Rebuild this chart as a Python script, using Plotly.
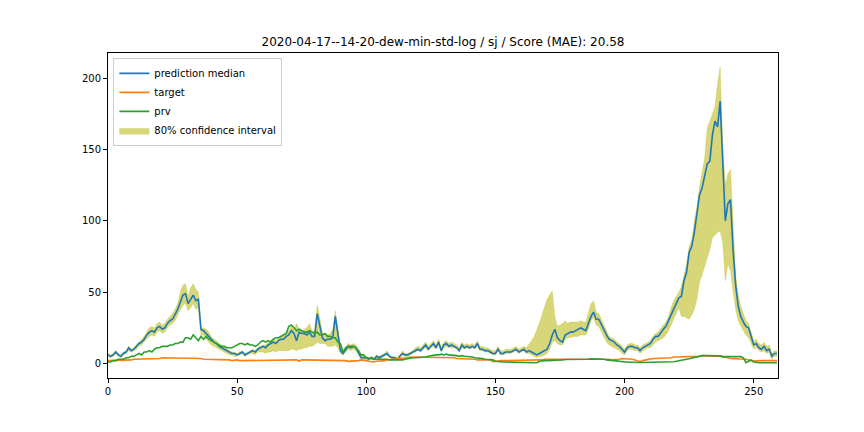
import plotly.graph_objects as go

title_text = "2020-04-17--14-20-dew-min-std-log / sj / Score (MAE): 20.58"

median = [6, 5, 6, 8, 6, 5, 7, 8, 11, 9,
          10, 12, 14, 15, 17, 20, 22, 23, 22, 25,
          26, 24, 25, 28, 30, 31, 34, 38, 43, 48,
          49, 42, 45, 48, 44, 45, 24, 23, 21, 19,
          17, 15, 14, 12, 11, 10, 9, 8, 7, 7,
          6, 7, 8, 6, 7, 8, 9, 8, 10, 11,
          12, 11, 13, 14, 15, 14, 16, 17, 17, 19,
          20, 23, 21, 16, 22, 21, 21, 20, 22, 19,
          19, 35, 27, 18, 16, 17, 17, 18, 33, 20,
          9, 7, 10, 12, 11, 12, 11, 8, 4, 4,
          4, 3, 4, 3, 5, 4, 5, 6, 7, 5,
          4, 4, 3, 5, 7, 6, 6, 7, 8, 9,
          10, 9, 11, 13, 10, 12, 14, 11, 15, 9,
          13, 14, 12, 13, 12, 11, 9, 13, 11, 12,
          11, 12, 11, 14, 10, 10, 9, 9, 8, 7,
          7, 10, 7, 7, 8, 8, 8, 9, 10, 8,
          9, 10, 8, 9, 8, 7, 6, 7, 8, 9,
          10, 14, 20, 24, 18, 16, 15, 20, 21, 22,
          22, 23, 24, 25, 24, 23, 28, 33, 36, 31,
          31, 27, 24, 20, 17, 16, 15, 13, 12, 10,
          8, 11, 12, 12, 11, 11, 9, 11, 12, 13,
          14, 17, 19, 19, 22, 24, 26, 30, 34, 38,
          41, 46, 47, 58, 64, 78, 82, 92, 105, 118,
          123, 132, 140, 142, 160, 170, 166, 184, 140, 100,
          112, 115, 80, 55, 40, 33, 29, 26, 25, 18,
          13, 14, 11, 10, 12, 9, 10, 5, 7, 7]

lower = [5, 4, 5, 7, 5, 4, 6, 7, 9, 8,
         9, 10, 12, 13, 15, 17, 19, 20, 19, 22,
         23, 21, 22, 25, 27, 28, 30, 34, 38, 41,
         42, 37, 39, 42, 38, 39, 20, 20, 17, 15,
         13, 12, 11, 10, 9, 8, 7, 6, 6, 5,
         5, 6, 7, 5, 6, 7, 7, 6, 8, 8,
         8, 7, 8, 8, 9, 8, 9, 9, 9, 9,
         9, 10, 10, 9, 10, 10, 11, 11, 12, 12,
         13, 15, 14, 14, 14, 12, 12, 12, 13, 11,
         7, 6, 8, 10, 9, 10, 9, 6, 3, 3,
         3, 2, 3, 2, 4, 3, 4, 5, 6, 4,
         3, 3, 2, 4, 6, 5, 5, 6, 7, 8,
         9, 8, 10, 11, 9, 11, 12, 10, 13, 8,
         11, 12, 11, 11, 11, 10, 8, 11, 10, 11,
         10, 11, 10, 12, 9, 9, 8, 8, 7, 6,
         6, 9, 6, 6, 7, 7, 7, 8, 9, 7,
         8, 9, 7, 7, 6, 5, 4, 5, 5, 6,
         7, 10, 15, 16, 14, 13, 13, 17, 18, 18,
         19, 19, 19, 20, 20, 20, 24, 30, 32, 27,
         26, 22, 19, 15, 13, 12, 11, 10, 9, 7,
         6, 9, 10, 10, 9, 9, 7, 9, 10, 11,
         11, 13, 15, 16, 17, 18, 20, 23, 27, 31,
         34, 39, 33, 33, 32, 31, 34, 38, 45, 57,
         62, 68, 75, 80, 88, 90, 92, 93, 85, 58,
         70, 65, 50, 38, 30, 26, 23, 20, 18, 14,
         10, 11, 9, 8, 9, 7, 8, 3, 5, 5]

upper = [7, 6, 7, 9, 7, 6, 8, 9, 12, 10,
         11, 13, 15, 17, 19, 22, 25, 26, 25, 28,
         29, 27, 28, 31, 33, 35, 38, 42, 50, 55,
         56, 47, 53, 56, 52, 50, 24, 25, 24, 22,
         19, 17, 16, 14, 13, 12, 10, 9, 8, 8,
         7, 8, 9, 7, 8, 9, 10, 9, 11, 12,
         13, 13, 15, 16, 17, 16, 18, 19, 20, 22,
         23, 26, 24, 28, 24, 23, 24, 25, 28, 23,
         23, 41, 32, 22, 20, 20, 21, 24, 37, 24,
         12, 9, 12, 14, 13, 14, 13, 10, 6, 5,
         5, 4, 5, 4, 6, 5, 6, 7, 9, 6,
         5, 5, 4, 6, 9, 7, 7, 8, 9, 11,
         12, 11, 13, 15, 12, 14, 16, 13, 17, 11,
         15, 16, 14, 15, 14, 13, 11, 15, 13, 14,
         13, 14, 13, 16, 12, 12, 11, 11, 10, 9,
         9, 12, 9, 9, 10, 10, 10, 11, 12, 10,
         11, 12, 11, 14, 16, 19, 23, 28, 34, 40,
         45, 48, 51, 33, 26, 27, 28, 30, 28, 29,
         29, 29, 29, 30, 29, 29, 36, 42, 44, 36,
         35, 31, 27, 22, 19, 18, 17, 15, 14, 12,
         10, 13, 14, 14, 13, 13, 11, 13, 14, 15,
         16, 19, 21, 22, 25, 27, 29, 33, 39, 44,
         47, 50, 54, 63, 70, 82, 87, 100, 110, 124,
         133, 144, 165, 170, 174, 180, 196, 208, 154, 125,
         133, 136, 100, 62, 48, 40, 35, 30, 28, 22,
         16, 17, 14, 13, 15, 12, 13, 7, 9, 9]

target = [2, 2, 2, 2, 2.5, 2.5, 2.5, 2.5, 2.5, 2.5,
          3, 3, 3, 3, 3, 3, 3.5, 3.5, 3.5, 3.5,
          3.5, 4, 4, 3.5, 4, 4, 4, 4, 3.5, 4,
          4, 4, 3.5, 3.5, 3.5, 3.5, 3.5, 3, 3, 3,
          3, 3, 3, 2.5, 2.5, 3, 2.5, 2.5, 2, 2.5,
          2.5, 2, 2, 2, 2.5, 2.5, 2.5, 2.5, 2.5, 2.5,
          2.5, 2.5, 2.5, 2.5, 2.5, 2, 2.5, 2.5, 2.5, 2.5,
          2.5, 2.5, 2.5, 2.5, 1.5, 2.5, 2.5, 2.5, 2.5, 2.5,
          2.5, 2.5, 2.5, 2.5, 2.5, 2.5, 2.5, 2.5, 2.5, 2.5,
          2, 2, 2, 1.5, 1.5, 2, 2, 2, 2.5, 2.5,
          2, 1.5, 1, 1, 1.5, 1.5, 2, 2, 2.5, 2.5,
          3, 3, 3.5, 3.5, 4, 4, 4, 4.5, 4.5, 4.5,
          4.5, 4.5, 4.5, 4.5, 4.5, 4.5, 4.5, 4.5, 4.5, 4.5,
          4.5, 4, 4, 4, 4, 3.5, 3.5, 3.5, 3.5, 3,
          3, 3, 3, 2.5, 2.5, 2, 2, 2, 2.5, 1.2,
          1.5, 2, 2, 2, 2, 2, 2, 2, 2, 2,
          2, 2, 2, 2.5, 2.5, 2.5, 2.5, 2.5, 2.5, 3,
          3, 3, 3, 3, 3, 3, 3, 3.5, 3.5, 3,
          3, 3, 3, 3, 3, 3, 3, 3, 3, 3,
          3, 3, 3, 3, 3, 2.5, 2.5, 2.5, 3, 3.5,
          3.5, 3.5, 3, 3, 2.5, 2, 1.2, 2, 2.5, 3,
          3, 3.5, 3.5, 3.5, 4, 4, 4, 4, 4, 4.5,
          4.5, 4.5, 4.5, 4.5, 4.5, 5, 5, 5, 5, 5,
          5.5, 5.5, 5, 5, 5, 5, 5, 5, 4.5, 4.5,
          4, 3.5, 3.5, 3.5, 3.5, 3.5, 3.5, 3, 2.5, 2,
          1.8, 1.8, 2, 2, 2, 2, 2, 2, 2, 2]

prv = [1, 1, 2, 2, 3, 3, 3, 4, 4, 5,
       5, 6, 7, 6, 8, 8, 9, 8, 10, 11,
       11, 12, 12, 12, 13, 13, 14, 14, 15, 15,
       18, 18, 17, 20, 18, 16, 19, 17, 19, 17,
       16, 15, 14, 13, 12, 12, 11, 11, 11, 12,
       13, 14, 14, 13, 14, 13, 13, 12, 13, 15,
       16, 15, 16, 15, 17, 18, 18, 19, 20, 21,
       26, 27, 25, 23, 24, 23, 22, 22, 23, 22,
       21, 22, 20, 20, 21, 19, 19, 18, 18, 15,
       14, 8, 11, 12, 12, 12, 11, 9, 6, 6,
       4, 4, 3.5, 3, 3, 3, 3.5, 3.5, 3, 2.5,
       2.5, 2, 2, 2.5, 2.5, 3, 3.5, 4, 4, 4,
       4, 4, 4, 4.5, 5, 5.5, 5.5, 6, 6, 6.5,
       6, 6.5, 6, 6, 5.5, 5.5, 5, 5.5, 5, 5,
       4.5, 4.5, 4, 4, 3.5, 3.5, 3, 3, 3, 2.5,
       1.5, 1.2, 1.2, 1, 1, 1, 1, 0.8, 0.5, 0.5,
       0.5, 0.5, 0.5, 0.5, 0.5, 0.5, 0.5, 1.5, 2, 2,
       2, 2, 2.2, 2.2, 2.5, 2.5, 2.5, 2.8, 2.8, 3,
       2.5, 3, 3, 3, 3, 3, 3, 3.2, 3.2, 3,
       3, 3, 3, 2.5, 2.2, 2, 2, 1.8, 1.6, 1.2,
       1, 1, 0.8, 0.8, 0.8, 0.7, 0.7, 0.7, 0.7, 0.7,
       0.7, 0.7, 0.7, 0.7, 0.7, 0.7, 0.7, 0.7, 1, 1.2,
       1.5, 2, 2.3, 2.8, 3, 3.3, 3.8, 4.2, 4.8, 5.2,
       5.5, 5.5, 5.5, 5.5, 5.3, 5.5, 5, 5.3, 4.8, 4.8,
       4.8, 4.8, 4.8, 4.8, 4.8, 4.8, 4, 0.6, 1.5, 2.3,
       1, 0.5, 0.5, 0.5, 0.5, 0.5, 0.5, 0.5, 0.5, 0.5]

x_ticks = [0, 50, 100, 150, 200, 250]
y_ticks = [0, 50, 100, 150, 200]

x = list(range(len(median)))

band_color = "rgba(188,189,34,0.6)"

fig = go.Figure()
fig.add_trace(go.Scatter(x=x, y=lower, mode="lines", line=dict(width=0.5, color=band_color),
                         showlegend=False, hoverinfo="skip"))
fig.add_trace(go.Scatter(x=x, y=upper, mode="lines", line=dict(width=0.5, color=band_color),
                         fill="tonexty", fillcolor=band_color,
                         name="80% confidence interval", legendrank=4))
fig.add_trace(go.Scatter(x=x, y=median, mode="lines", line=dict(width=1.6, color="#1f77b4"),
                         name="prediction median", legendrank=1))
fig.add_trace(go.Scatter(x=x, y=target, mode="lines", line=dict(width=1.6, color="#ff7f0e"),
                         name="target", legendrank=2))
fig.add_trace(go.Scatter(x=x, y=prv, mode="lines", line=dict(width=1.6, color="#2ca02c"),
                         name="prv", legendrank=3))

axis_common = dict(showline=True, linecolor="black", linewidth=1, mirror=True,
                   ticks="outside", ticklen=4, tickcolor="black", showgrid=False,
                   zeroline=False, tickfont=dict(family="DejaVu Sans", size=10, color="black"))

# page body has an 8px default margin; margins below compensate so the
# axes land where the reference has them
fig.update_layout(
    width=864, height=432,
    margin=dict(l=100, r=94, t=45, b=62),
    paper_bgcolor="white", plot_bgcolor="white",
    title=dict(text=title_text, x=0.5, xanchor="center", xref="paper",
               y=1 - 34 / 432, yanchor="middle",
               font=dict(family="DejaVu Sans", size=12, color="black")),
    xaxis=dict(range=[0, 259.4], tickvals=x_ticks, **axis_common),
    yaxis=dict(range=[-10.2, 217.8], tickvals=y_ticks, **axis_common),
    legend=dict(x=0.008, y=0.985, xanchor="left", yanchor="top", traceorder="normal",
                bgcolor="rgba(255,255,255,0.8)", bordercolor="#cccccc", borderwidth=1,
                font=dict(family="DejaVu Sans", size=10, color="black"),
                tracegroupgap=0, itemwidth=30),
    showlegend=True,
)

fig.write_html("out.html", config={"displayModeBar": False})
